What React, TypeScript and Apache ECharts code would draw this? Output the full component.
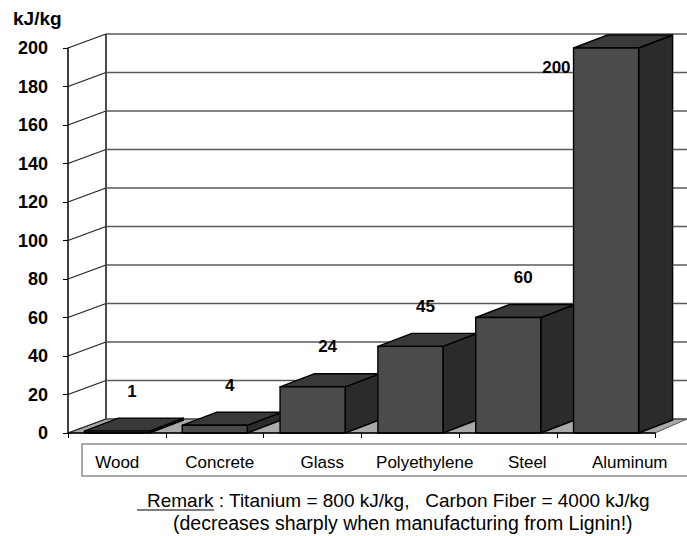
import React, { useEffect, useRef } from "react";
import * as echarts from "echarts";

const categories = ["Wood", "Concrete", "Glass", "Polyethylene", "Steel", "Aluminum"];
const energyValues = [1, 4, 24, 45, 60, 200];
const yTicks = [0, 20, 40, 60, 80, 100, 120, 140, 160, 180, 200];
const unitLabel = "kJ/kg";
const remarkLine1 = "Remark : Titanium = 800 kJ/kg,   Carbon Fiber = 4000 kJ/kg";
const remarkLine2 = "(decreases sharply when manufacturing from Lignin!)";

const FONT = "'Liberation Sans', Arial, Helvetica, sans-serif";
const WALL_DX = 38;
const WALL_DY = -14;
const WALL_DX_RIGHT = 32;
const BAR_DX = 34;
const BAR_DY = -13;

export default function App() {
  const ref = useRef<HTMLDivElement>(null);

  useEffect(() => {
    document.body.style.margin = "0";
    if (!ref.current) return;
    const chart = echarts.init(ref.current, null, { renderer: "svg" });

    const option: any = {
      animation: false,
      backgroundColor: "#ffffff",
      grid: [
        { left: 68, top: 48, width: 587, height: 385 },
        { left: 66, top: 440, width: 615, height: 11 },
      ],
      xAxis: [
        {
          type: "category",
          gridIndex: 0,
          data: categories,
          z: 10,
          axisLine: { show: true, lineStyle: { color: "#000", width: 1.5 } },
          axisTick: { show: true, length: 5, lineStyle: { color: "#000", width: 1 } },
          axisLabel: { show: false },
          splitLine: { show: false },
        },
        {
          type: "category",
          gridIndex: 1,
          data: categories,
          axisLine: { show: false },
          axisTick: { show: false },
          axisLabel: { show: true, interval: 0, color: "#000", fontSize: 17, fontFamily: FONT, margin: 3 },
          splitLine: { show: false },
        },
      ],
      yAxis: [
        {
          type: "value",
          gridIndex: 0,
          min: 0,
          max: 200,
          interval: 20,
          z: 10,
          axisLine: { show: true, lineStyle: { color: "#000", width: 1.5 } },
          axisTick: { show: true, length: 5, lineStyle: { color: "#000", width: 1 } },
          axisLabel: { color: "#000", fontSize: 18, fontWeight: "bold", fontFamily: FONT, margin: 20 },
          splitLine: { show: false },
        },
        { type: "value", gridIndex: 1, show: false },
      ],
      graphic: [
        {
          type: "text",
          left: 13,
          top: 9,
          style: { text: unitLabel, fill: "#000", font: `bold 19px ${FONT}` },
        },
        {
          type: "rect",
          shape: { x: 82, y: 444, width: 640, height: 32 },
          style: { fill: "#fff", stroke: "#8c8c8c", lineWidth: 1.5 },
          z: -1,
        },
        {
          type: "text",
          x: 147,
          y: 500,
          style: { text: remarkLine1, fill: "#000", font: `19px ${FONT}`, textVerticalAlign: "middle", verticalAlign: "middle" },
        },
        {
          type: "line",
          shape: { x1: 137, y1: 510, x2: 214, y2: 510 },
          style: { stroke: "#000", lineWidth: 1.2 },
        },
        {
          type: "text",
          x: 173,
          y: 523,
          style: { text: remarkLine2, fill: "#000", font: `19.5px ${FONT}`, textVerticalAlign: "middle", verticalAlign: "middle" },
        },
      ],
      series: [
        {
          type: "custom",
          name: "walls",
          xAxisIndex: 0,
          yAxisIndex: 0,
          z: 1,
          silent: true,
          data: [[0, 0]],
          encode: { x: 0, y: 1 },
          renderItem: (params: any, api: any) => {
            const cs = params.coordSys;
            const x0 = cs.x;
            const xR = cs.x + cs.width;
            const y0 = cs.y + cs.height;
            return {
              type: "group",
              children: [
                {
                  type: "polygon",
                  shape: {
                    points: [
                      [x0, y0],
                      [xR, y0],
                      [xR + WALL_DX_RIGHT, y0 + WALL_DY],
                      [x0 + WALL_DX, y0 + WALL_DY],
                    ],
                  },
                  style: { fill: "#a9a9a9", stroke: "#555", lineWidth: 1 },
                },
                {
                  type: "line",
                  shape: { x1: x0 + WALL_DX, y1: cs.y + WALL_DY, x2: x0 + WALL_DX, y2: y0 + WALL_DY },
                  style: { stroke: "#111", lineWidth: 1.5 },
                },
              ],
            };
          },
        },
        {
          type: "custom",
          name: "gridlines",
          xAxisIndex: 0,
          yAxisIndex: 0,
          z: 2,
          silent: true,
          data: yTicks.map((v) => [0, v]),
          encode: { x: 0, y: 1 },
          renderItem: (params: any, api: any) => {
            const cs = params.coordSys;
            const x0 = cs.x;
            const xR = cs.x + cs.width;
            const p = api.coord([0, api.value(1)]);
            const y = p[1];
            return {
              type: "group",
              children: [
                {
                  type: "line",
                  shape: { x1: x0, y1: y, x2: x0 + WALL_DX, y2: y + WALL_DY },
                  style: { stroke: "#222", lineWidth: 1.3 },
                },
                {
                  type: "line",
                  shape: { x1: x0 + WALL_DX, y1: y + WALL_DY, x2: xR + WALL_DX_RIGHT + 10, y2: y + WALL_DY },
                  style: { stroke: "#5a5a5a", lineWidth: 1.6 },
                },
              ],
            };
          },
        },
        {
          type: "custom",
          name: "energy",
          xAxisIndex: 0,
          yAxisIndex: 0,
          z: 3,
          data: energyValues.map((v, i) => [i, v]),
          encode: { x: 0, y: 1 },
          renderItem: (params: any, api: any) => {
            const cs = params.coordSys;
            const idx = api.value(0);
            const val = api.value(1);
            const top = api.coord([idx, val]);
            const base = api.coord([idx, 0]);
            const w = api.size([1, 0])[0] * 0.665;
            const xl = top[0] - w / 2;
            const xr = top[0] + w / 2;
            const yt = top[1];
            const yb = base[1];
            const edge = { stroke: "#000", lineWidth: 1.4, lineJoin: "round" };
            let lx = top[0] + 15;
            let ly = yt + BAR_DY - 27;
            let align = "center";
            if (ly - 9 < cs.y) {
              lx = xl - 3;
              ly = yt + 19;
              align = "right";
            }
            return {
              type: "group",
              children: [
                {
                  type: "polygon",
                  shape: { points: [[xr, yt], [xr + BAR_DX, yt + BAR_DY], [xr + BAR_DX, yb + BAR_DY], [xr, yb]] },
                  style: { fill: "#2b2b2b", ...edge },
                },
                {
                  type: "polygon",
                  shape: { points: [[xl, yt], [xr, yt], [xr + BAR_DX, yt + BAR_DY], [xl + BAR_DX, yt + BAR_DY]] },
                  style: { fill: "#393939", ...edge },
                },
                {
                  type: "rect",
                  shape: { x: xl, y: yt, width: w, height: Math.max(yb - yt, 0.5) },
                  style: { fill: "#4b4b4b", ...edge },
                },
                {
                  type: "text",
                  x: lx,
                  y: ly,
                  style: {
                    text: String(val),
                    fill: "#000",
                    font: `bold 17px ${FONT}`,
                    align: align,
                    verticalAlign: "middle",
                    textAlign: align,
                    textVerticalAlign: "middle",
                  },
                },
              ],
            };
          },
        },
      ],
    };

    chart.setOption(option);
    return () => chart.dispose();
  }, []);

  return <div ref={ref} style={{ width: 687, height: 536 }} />;
}
